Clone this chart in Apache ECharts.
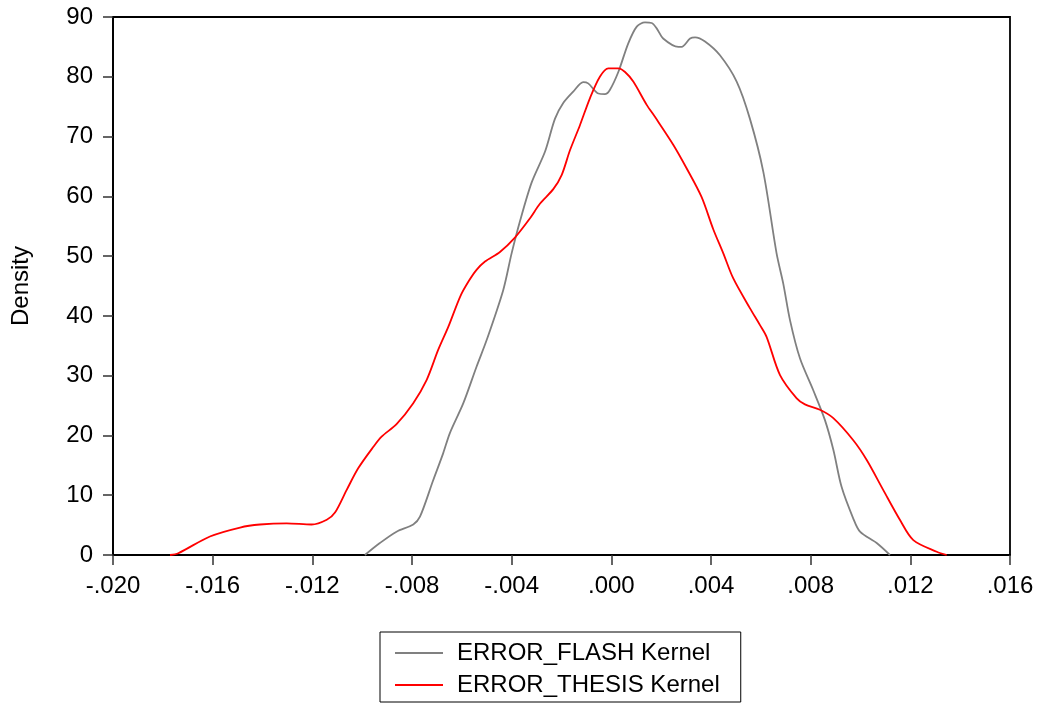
<!DOCTYPE html>
<html>
<head>
<meta charset="utf-8">
<script src="https://cdn.jsdelivr.net/npm/echarts@6/dist/echarts.min.js"></script>
<style>
  html, body { margin: 0; padding: 0; background: #fff; }
  #main { width: 1039px; height: 704px; }
</style>
</head>
<body>
<div id="main"></div>
<script>
// kernel density of ERROR_FLASH (grey)
const flashX = [-0.00989, -0.00929, -0.00862, -0.00795, -0.00768, -0.00715, -0.00675, -0.00648, -0.00594, -0.00541,
  -0.00500, -0.00434, -0.00400, -0.00367, -0.00320, -0.00266, -0.00226, -0.00193, -0.00153, -0.00113,
  -0.00093, -0.00052, -0.00026, -0.00006, 0.00028, 0.00068, 0.00102, 0.00135, 0.00162, 0.00182,
  0.00208, 0.00269, 0.00282, 0.00316, 0.00336, 0.00376, 0.00436, 0.00503, 0.00556, 0.00610,
  0.00663, 0.00690, 0.00717, 0.00757, 0.00810, 0.00857, 0.00891, 0.00924, 0.00971, 0.00998,
  0.01065, 0.01118];
const flashY = [0, 2.0, 3.9, 5.1, 6.4, 12.5, 17.0, 20.4, 25.4, 31.5,
  36.0, 44.3, 50.5, 55.8, 62.3, 67.5, 73.0, 75.6, 77.5, 79.1,
  78.9, 77.2, 77.1, 77.8, 80.8, 85.6, 88.4, 89.1, 89.0, 88.1,
  86.4, 85.0, 85.0, 86.4, 86.6, 85.9, 83.6, 79.2, 73.0, 64.1,
  50.5, 45.4, 39.3, 32.9, 27.6, 22.6, 17.6, 11.4, 6.1, 3.9,
  2.0, 0];

// kernel density of ERROR_THESIS (red)
const thesisX = [-0.01771, -0.01738, -0.01611, -0.01490, -0.01410, -0.01303, -0.01203, -0.01142, -0.01109, -0.01062,
  -0.01016, -0.00955, -0.00922, -0.00862, -0.00795, -0.00741, -0.00695, -0.00654, -0.00607, -0.00574,
  -0.00541, -0.00507, -0.00447, -0.00387, -0.00327, -0.00286, -0.00233, -0.00199, -0.00166, -0.00126,
  -0.00086, -0.00046, -0.00012, 0.00028, 0.00055, 0.00088, 0.00142, 0.00175, 0.00249, 0.00302,
  0.00362, 0.00409, 0.00449, 0.00489, 0.00556, 0.00596, 0.00623, 0.00677, 0.00744, 0.00777,
  0.00837, 0.00891, 0.00971, 0.01025, 0.01091, 0.01158, 0.01212, 0.01306, 0.01346];
const thesisY = [0, 0.3, 3.1, 4.6, 5.1, 5.3, 5.1, 5.9, 7.1, 10.9,
  14.5, 18.1, 19.8, 21.9, 25.4, 29.3, 34.3, 38.2, 43.2, 45.7,
  47.7, 49.1, 50.7, 53.1, 56.3, 58.8, 61.2, 63.6, 67.7, 71.9,
  76.4, 80.0, 81.4, 81.4, 80.8, 79.2, 75.3, 73.3, 68.6, 64.7,
  59.9, 54.5, 50.5, 46.3, 41.3, 38.5, 36.5, 30.1, 26.2, 25.2,
  24.3, 22.9, 19.2, 15.9, 10.9, 5.9, 2.5, 0.55, 0];

const xTicks = { min: -0.020, max: 0.016, step: 0.004 };
const yTicks = { min: 0, max: 90, step: 10 };

const zip = (xs, ys) => xs.map((x, i) => [x, ys[i]]);

// -.020 / .000 style labels
function fmtX(v) {
  return (Math.round(v * 1000) / 1000).toFixed(3).replace('0.', '.');
}

const font = 'Liberation Sans, Arial, Helvetica, sans-serif';

const myChart = echarts.init(document.getElementById('main'));

let option = {
  animation: false,
  grid: {
    left: 113,
    right: 29,
    top: 17,
    bottom: 149,
    show: true,
    borderColor: '#000',
    borderWidth: 1.8,
  },
  legend: {
    orient: 'vertical',
    left: 380,
    top: 632,
    padding: [9, 21, 5, 15],
    borderColor: '#000',
    borderWidth: 1,
    icon: 'path://M0,0 H48 V2 H0 Z',
    itemWidth: 48,
    itemHeight: 2,
    itemGap: 8,
    textStyle: {
      fontFamily: font,
      fontSize: 24,
      color: '#000',
      lineHeight: 24,
      padding: [0, 0, 0, 9],
    },
    data: ['ERROR_FLASH Kernel', 'ERROR_THESIS Kernel'],
  },
  xAxis: {
    type: 'value',
    min: xTicks.min,
    max: xTicks.max,
    interval: xTicks.step,
    axisLine: { show: true, onZero: false, lineStyle: { color: '#000', width: 1.8 } },
    axisTick: { show: true, inside: false, length: 10, lineStyle: { color: '#333', width: 1.5 } },
    splitLine: { show: false },
    axisLabel: {
      margin: 19,
      fontFamily: font,
      fontSize: 24,
      color: '#000',
      formatter: fmtX,
    },
  },
  yAxis: {
    type: 'value',
    min: yTicks.min,
    max: yTicks.max,
    interval: yTicks.step,
    name: 'Density',
    nameLocation: 'middle',
    nameGap: 80,
    nameTextStyle: { fontFamily: font, fontSize: 24, color: '#000' },
    axisLine: { show: true, onZero: false, lineStyle: { color: '#000', width: 1.8 } },
    axisTick: { show: true, inside: false, length: 10, lineStyle: { color: '#333', width: 1.5 } },
    splitLine: { show: false },
    axisLabel: {
      margin: 20,
      fontFamily: font,
      fontSize: 24,
      color: '#000',
    },
  },
  series: [
    {
      name: 'ERROR_FLASH Kernel',
      type: 'line',
      symbol: 'none',
      smooth: 0.3,
      lineStyle: { color: '#808080', width: 1.8 },
      itemStyle: { color: '#808080' },
      data: zip(flashX, flashY),
    },
    {
      name: 'ERROR_THESIS Kernel',
      type: 'line',
      symbol: 'none',
      smooth: 0.3,
      lineStyle: { color: '#ff0000', width: 1.8 },
      itemStyle: { color: '#ff0000' },
      data: zip(thesisX, thesisY),
    },
  ],
};

myChart.setOption(option);
</script>
</body>
</html>
